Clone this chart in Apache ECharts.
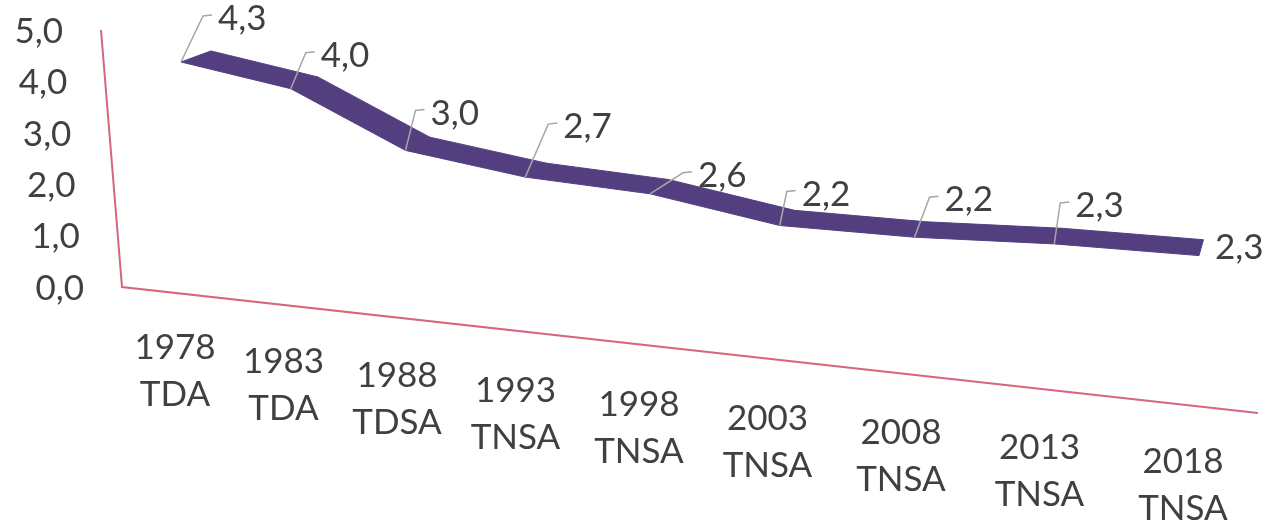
<!DOCTYPE html>
<html>
<head>
<meta charset="utf-8">
<title>ISF</title>
<script src="https://cdn.jsdelivr.net/npm/echarts@6/dist/echarts.min.js"></script>
<style>
  html, body { margin: 0; padding: 0; background: #fff; }
  #chart { width: 1266px; height: 524px; }
</style>
</head>
<body>
<div id="chart"></div>
<script>
// données
const years = ['1978', '1983', '1988', '1993', '1998', '2003', '2008', '2013', '2018']
const surveys = ['TDA', 'TDA', 'TDSA', 'TNSA', 'TNSA', 'TNSA', 'TNSA', 'TNSA', 'TNSA']
const rates = [4.3, 4.0, 3.0, 2.7, 2.6, 2.2, 2.2, 2.3, 2.3]
const yTicks = [0, 1, 2, 3, 4, 5]
const yMax = 5

// placement of each value label relative to its point (px)
const labelOffsets = [[37, -43], [30, -33], [25, -37], [38, -50], [48, -18], [22, -31], [30, -37], [21, -38], [16, -8]]

const font = 'Lato, "Open Sans", sans-serif'
const textColor = '#404040'
const ribbonColor = '#533f80'
const frameColor = '#d7667d'

// 3D-looking perspective, fitted by eye
const depthX = s => 181 + 107.25 * s + 2.5 * s * s
const seriesPoint = (s, v) => [depthX(s), 277 + 11.7 * s - 50 * v]
const vanish = [1377, -380]
const backOf = p => [p[0] + 0.025 * (vanish[0] - p[0]), p[1] + 0.025 * (vanish[1] - p[1])]
const categoryPos = s => [depthX(s) - 6 - 1.25 * s, 324 + 14.25 * s]
const wallX = v => 122 - 4.2 * v
const floorRun = [1136, 126]

const fmt = v => v.toFixed(1).replace('.', ',')

// flat grid coords -> (category, value) -> perspective screen point
function project(pt, cs) {
  const s = (pt[0] - cs.x) / cs.width * years.length - 0.5
  const v = (cs.y + cs.height - pt[1]) / cs.height * yMax
  return seriesPoint(s, v)
}

const chart = echarts.init(document.getElementById('chart'))

const option = {
  animation: false,
  grid: { left: 122, right: 8, top: 30, bottom: 237 },
  xAxis: { type: 'category', data: years, show: false },
  yAxis: { type: 'value', min: 0, max: yMax, interval: 1, show: false },
  series: [
    {
      // wall, floor and value axis labels
      type: 'custom',
      clip: false,
      data: yTicks.map(v => [0, v]),
      renderItem: (params, api) => {
        const v = api.value(1)
        const y = api.coord([0, v])[1]
        const children = [{
          type: 'text',
          style: {
            x: wallX(v) - 38, y: y + 1.5, text: fmt(v),
            fill: textColor, font: '35px ' + font,
            align: 'right', verticalAlign: 'middle'
          }
        }]
        if (v === 0) {
          const top = api.coord([0, yMax])[1]
          children.push({
            type: 'polyline',
            shape: { points: [[wallX(yMax), top], [wallX(0), y], [wallX(0) + floorRun[0], y + floorRun[1]]] },
            style: { stroke: frameColor, lineWidth: 2, fill: null }
          })
        }
        return { type: 'group', children }
      }
    },
    {
      type: 'custom',
      clip: false,
      data: rates.map((v, i) => [i, v]),
      renderItem: (params, api) => {
        const cs = params.coordSys
        const i = api.value(0)
        const v = api.value(1)
        const f0 = project(api.coord([i, v]), cs)
        const children = []
        if (i < rates.length - 1) {
          const f1 = project(api.coord([i + 1, rates[i + 1]]), cs)
          children.push({
            type: 'polygon',
            shape: { points: [f0, f1, backOf(f1), backOf(f0)] },
            style: { fill: ribbonColor, stroke: ribbonColor, lineWidth: 1 }
          })
        }
        const lx = f0[0] + labelOffsets[i][0]
        const ly = f0[1] + labelOffsets[i][1]
        if (i < rates.length - 1) {
          children.push({
            type: 'polyline',
            z2: 10,
            shape: { points: [f0, [lx - 15, ly - 3], [lx - 6, ly - 4]] },
            style: { stroke: '#a6a6a6', lineWidth: 1.5, fill: null }
          })
        }
        children.push({
          type: 'text',
          z2: 11,
          style: {
            x: lx, y: ly, text: fmt(v),
            fill: textColor, font: '35px ' + font,
            align: 'left', verticalAlign: 'middle'
          }
        })
        const c = categoryPos(i)
        children.push({
          type: 'text',
          style: {
            x: c[0], y: c[1], text: years[i] + '\n' + surveys[i],
            fill: textColor, font: '35px ' + font, lineHeight: 47,
            align: 'center', verticalAlign: 'top'
          }
        })
        return { type: 'group', children }
      }
    }
  ]
}

chart.setOption(option)
window.addEventListener('resize', () => {
  chart.resize()
})
</script>
</body>
</html>
